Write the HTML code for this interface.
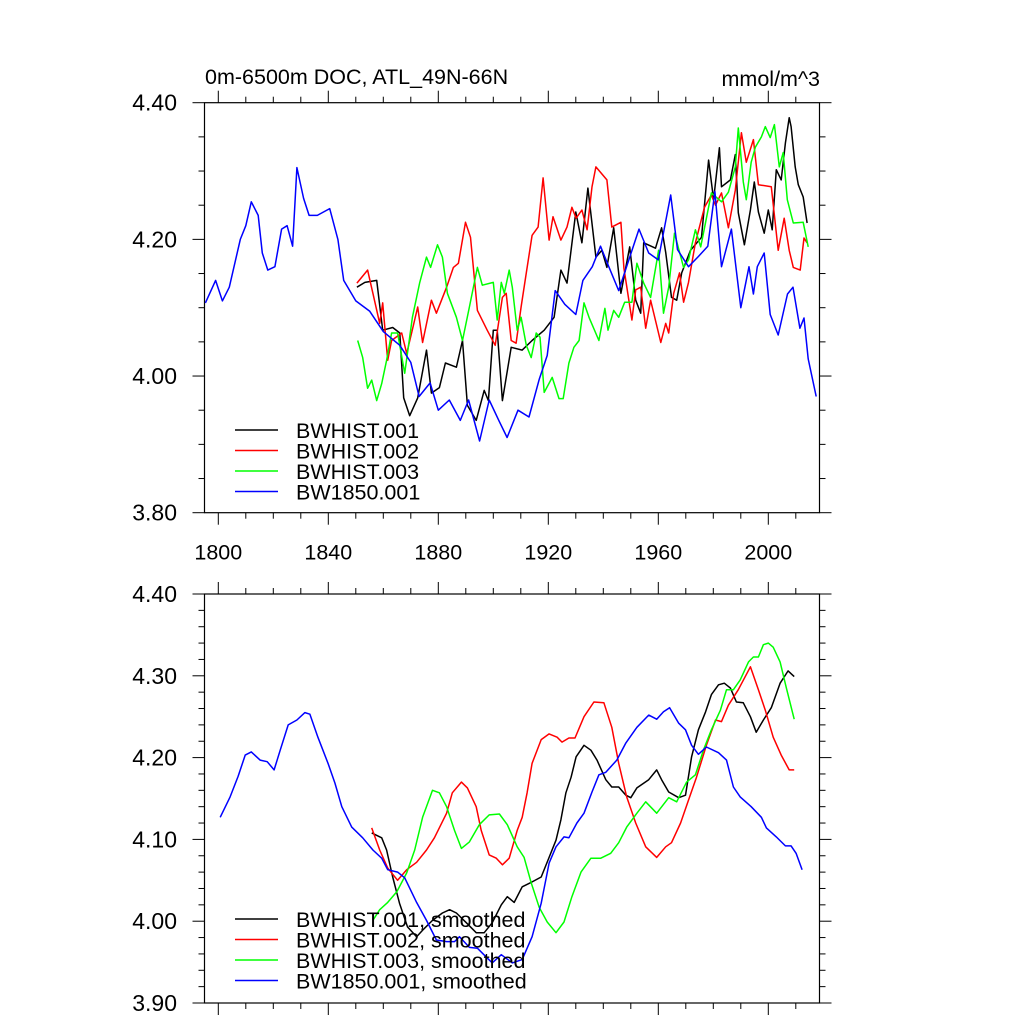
<!DOCTYPE html>
<html><head><meta charset="utf-8"><style>
body{margin:0;background:#fff;}
svg{display:block;font-family:"Liberation Sans",Arial,sans-serif;}
</style></head><body>
<svg id="chart" width="1024" height="1024" viewBox="0 0 1024 1024" xmlns="http://www.w3.org/2000/svg">
<rect width="1024" height="1024" fill="#fff"/>
<text x="205" y="84" font-size="21.5">0m-6500m DOC, ATL_49N-66N</text>
<text x="820" y="86" font-size="21.5" text-anchor="end">mmol/m^3</text>
<g id="top"></g><g id="bot"></g>
</svg>
<script>
// ---- top panel data (annual) ----
const topBlackYears=[1850.4,1853.3,1857.6,1859.8,1863.4,1866,1867.4,1869.6,1872.5,1875.7,1877.5,1880.4,1882.6,1886.6,1888.8,1890.6,1893.8,1896.7,1898.2,1900,1901.4,1903.3,1906.5,1910.5,1914.1,1918.5,1922.1,1924.6,1926.8,1930,1932.2,1934.4,1937.3,1939.5,1941.3,1943.8,1946.4,1949.6,1951.8,1953.6,1954.7,1959,1961.2,1962.7,1964.8,1966.7,1968.5,1971.7,1975.7,1978.3,1980.1,1982.2,1983,1986.2,1988,1989.1,1991.3,1993.5,1994.9,1996.4,1998.5,2000,2001.4,2002.9,2004.7,2006.2,2007.6,2008.3,2009.8,2010.9,2012.7,2014.1];
const topBlackVals=[4.13,4.137,4.14,4.067,4.071,4.063,3.968,3.942,3.968,4.038,3.975,3.983,4.019,4.013,4.052,3.957,3.935,3.979,3.964,4.067,4.067,3.964,4.042,4.038,4.052,4.067,4.086,4.155,4.136,4.24,4.195,4.275,4.174,4.184,4.159,4.217,4.121,4.189,4.111,4.092,4.195,4.187,4.217,4.181,4.115,4.111,4.151,4.184,4.203,4.316,4.258,4.334,4.277,4.287,4.324,4.239,4.192,4.243,4.284,4.24,4.209,4.243,4.214,4.302,4.287,4.341,4.378,4.365,4.306,4.28,4.262,4.224];
const topRedYears=[1850.4,1854.3,1856.2,1858.7,1859.8,1861.6,1863,1866.7,1868.5,1870.3,1872.5,1874.3,1877.5,1879.3,1883,1885.5,1887.3,1889.9,1891.7,1894.2,1897.8,1900.7,1903.3,1904.7,1906.5,1908.3,1910.1,1912,1914.1,1916.3,1918.1,1920.3,1921.7,1924.6,1926.8,1928.6,1930.1,1932.2,1934.1,1935.9,1937.3,1941.3,1943.1,1946.4,1947.5,1950.4,1951.8,1953.6,1955.4,1957.2,1960.9,1962.7,1963.8,1965.6,1967.7,1969.2,1971,1973.5,1976.8,1979.3,1980.8,1983,1985.5,1988,1990.2,1992,1994.6,1996.4,2001.1,2003.6,2005.8,2007.6,2009.1,2011.6,2013,2014.1];
const topRedVals=[4.136,4.155,4.121,4.077,4.107,4.023,4.052,4.063,4.033,4.063,4.101,4.049,4.111,4.092,4.13,4.159,4.165,4.225,4.203,4.096,4.067,4.045,4.115,4.121,4.052,4.048,4.101,4.151,4.206,4.218,4.29,4.199,4.233,4.199,4.218,4.247,4.231,4.243,4.214,4.277,4.306,4.287,4.218,4.225,4.158,4.082,4.126,4.13,4.07,4.111,4.049,4.077,4.063,4.121,4.151,4.108,4.137,4.195,4.247,4.265,4.25,4.268,4.217,4.272,4.356,4.313,4.346,4.28,4.277,4.184,4.231,4.184,4.159,4.155,4.202,4.195];
const topGreenYears=[1850.7,1852.5,1854.3,1855.8,1857.6,1859.4,1861.2,1863,1865.2,1867.8,1870.6,1873.2,1875.7,1877.2,1879.7,1881.5,1883.3,1886.6,1888.8,1891.3,1894.2,1896,1900,1901.4,1902.9,1904,1905.8,1906.9,1908.7,1910.1,1912,1913.8,1915.6,1917,1918.5,1921.4,1923.9,1925.4,1927.5,1929.3,1931.2,1933,1934.8,1938.4,1940.6,1941.7,1943.8,1945.6,1947.8,1950.4,1952.2,1954.7,1957.2,1960.1,1961.9,1963.8,1965.9,1969.2,1971,1973.5,1975.4,1977.2,1979.3,1983,1985.5,1988,1989.1,1990.9,1992,1993.8,1995.3,1997.5,1998.9,2000.7,2002.2,2004,2005.4,2006.9,2009.1,2012.7,2014.5];
const topGreenVals=[4.052,4.027,3.982,3.994,3.964,3.989,4.023,4.063,4.063,4.004,4.086,4.136,4.174,4.159,4.192,4.174,4.121,4.086,4.052,4.101,4.159,4.133,4.137,4.082,4.137,4.121,4.155,4.13,4.067,4.086,4.045,4.027,4.063,4.057,3.976,3.998,3.967,3.967,4.019,4.042,4.052,4.107,4.086,4.052,4.099,4.067,4.096,4.086,4.108,4.108,4.165,4.136,4.115,4.184,4.092,4.13,4.209,4.159,4.17,4.214,4.189,4.225,4.268,4.255,4.269,4.306,4.363,4.284,4.258,4.313,4.335,4.35,4.365,4.349,4.368,4.306,4.327,4.258,4.224,4.225,4.189];
const topBlueYears=[1795.3,1799,1801.5,1804,1808,1810,1812,1814.5,1816,1818,1820.6,1823,1825,1827,1828.6,1831,1833,1836,1840.5,1843.5,1845.6,1850,1855,1860,1866,1870,1873,1877,1880,1884,1888,1891,1895,1898.5,1902,1905,1909,1913,1916.7,1919.6,1922.5,1926,1930,1932.6,1936,1939,1942,1945.6,1953,1956.5,1960,1964.5,1967,1971,1974.6,1978,1980.6,1983,1986.6,1990,1993,1994.6,1996,1998.5,2000.7,2003.6,2007,2009,2011.5,2013,2014.5,2017.4];
const topBlueVals=[4.107,4.14,4.11,4.13,4.2,4.22,4.255,4.235,4.18,4.155,4.16,4.215,4.22,4.19,4.305,4.26,4.235,4.235,4.245,4.2,4.14,4.11,4.095,4.065,4.045,4.02,3.97,3.99,3.95,3.965,3.935,3.965,3.905,3.965,3.935,3.91,3.95,3.94,3.995,4.03,4.125,4.105,4.09,4.14,4.16,4.19,4.16,4.125,4.215,4.18,4.17,4.265,4.185,4.16,4.175,4.19,4.27,4.16,4.215,4.1,4.16,4.12,4.16,4.18,4.09,4.06,4.12,4.13,4.07,4.085,4.025,3.97];
// ---- bottom panel data (smoothed) ----
const botBlackYears=[1855.8,1859.4,1861.2,1863.4,1865.9,1868.8,1872.1,1874.3,1877.9,1881.5,1884.1,1886.6,1890.2,1893.8,1896.7,1899.6,1902.9,1905.1,1907.6,1910.5,1914.1,1917.4,1920.3,1922.8,1924.6,1926.4,1928.3,1930.1,1933,1935.5,1937.7,1940.9,1943.1,1945.6,1948.2,1950,1952.2,1956.5,1959.4,1961.2,1963.8,1967.4,1969.9,1972.1,1974.6,1977.2,1979.3,1981.9,1984,1986.2,1988.4,1990.9,1993.5,1995.6,1998.2,2001.1,2004.3,2007.2,2009.4];
const botBlackVals=[4.108,4.102,4.087,4.054,4.022,3.993,3.981,3.989,4.001,4.01,4.014,4.01,3.998,3.986,3.986,3.998,4.02,4.03,4.023,4.042,4.048,4.054,4.078,4.099,4.124,4.157,4.176,4.201,4.215,4.209,4.197,4.173,4.164,4.164,4.154,4.151,4.163,4.173,4.185,4.173,4.158,4.151,4.154,4.201,4.234,4.256,4.277,4.289,4.291,4.285,4.268,4.267,4.25,4.231,4.246,4.261,4.291,4.306,4.299];
const botRedYears=[1855.8,1858.7,1861.6,1865.2,1868.5,1872.1,1875.7,1878.6,1883,1885.1,1888.4,1890.6,1893.8,1895.6,1898.5,1901.1,1903.3,1905.8,1908.7,1910.5,1912.3,1914.1,1917.4,1920.3,1923.2,1925,1927.5,1929.7,1933,1936.6,1940.2,1943.1,1945.6,1948.5,1951.8,1955.4,1959.4,1962.7,1964.8,1968.1,1971,1973.9,1977.5,1980.8,1983,1985.5,1989.1,1993.5,1996.4,1998.9,2001.8,2004.7,2007.6,2009.4];
const botRedVals=[4.114,4.087,4.065,4.05,4.063,4.072,4.087,4.102,4.132,4.157,4.17,4.163,4.14,4.111,4.081,4.077,4.069,4.077,4.111,4.127,4.157,4.193,4.222,4.229,4.225,4.219,4.224,4.224,4.25,4.268,4.267,4.237,4.193,4.152,4.12,4.091,4.078,4.091,4.096,4.12,4.148,4.176,4.215,4.246,4.244,4.264,4.283,4.311,4.283,4.258,4.225,4.203,4.185,4.185];
const botGreenYears=[1856.2,1858.7,1861.6,1864.9,1868.5,1871.4,1874.3,1877.9,1880.4,1883,1885.9,1888.4,1891.3,1894.9,1898.5,1902.2,1905.1,1908.7,1911.2,1913.8,1916.7,1919.6,1922.8,1925.7,1928.6,1931.9,1935.5,1939.1,1942.7,1945.6,1948.5,1952.2,1955.4,1959.4,1963.8,1966.7,1970.3,1973.5,1976.4,1979.3,1982.6,1984.8,1987.3,1989.8,1992.8,1994.6,1996.4,1998.2,2000,2001.8,2004.3,2006.5,2009.4];
const botGreenVals=[4.001,4.014,4.023,4.036,4.059,4.087,4.127,4.16,4.157,4.14,4.111,4.089,4.097,4.118,4.13,4.131,4.118,4.091,4.078,4.047,4.017,3.999,3.986,3.999,4.03,4.06,4.077,4.077,4.083,4.096,4.115,4.132,4.146,4.132,4.151,4.146,4.17,4.179,4.209,4.234,4.258,4.283,4.283,4.295,4.317,4.323,4.323,4.338,4.34,4.335,4.317,4.286,4.247];
const botBlueYears=[1800.7,1804.3,1807.2,1809.8,1812,1815.2,1817.8,1820.3,1822.5,1825.4,1828.6,1831.5,1833.3,1836.2,1839.9,1842.4,1844.9,1848.5,1852.5,1856.2,1859.4,1861.6,1865.2,1867.8,1872.1,1875.7,1879.3,1883,1885.9,1887.7,1891.3,1894.2,1897.5,1899.6,1902.9,1906.9,1910.5,1914.1,1917.4,1920.3,1922.8,1925.7,1927.5,1930.4,1933,1935.9,1938.4,1940.9,1944.9,1948.2,1952.2,1956.5,1959.4,1961.9,1964.1,1967.4,1969.9,1972.1,1974.6,1977.5,1981.9,1984.8,1987.3,1989.8,1993.8,1997.5,1999.3,2002.9,2006.2,2008.3,2010.1,2012.3];
const botBlueVals=[4.127,4.152,4.177,4.203,4.207,4.197,4.195,4.185,4.209,4.24,4.246,4.255,4.253,4.225,4.193,4.169,4.14,4.115,4.102,4.087,4.077,4.063,4.06,4.053,4.023,4.001,3.977,3.975,3.975,3.981,3.968,3.967,3.956,3.949,3.959,3.949,3.953,3.981,4.022,4.071,4.091,4.103,4.102,4.12,4.132,4.158,4.179,4.182,4.197,4.218,4.237,4.252,4.247,4.256,4.261,4.242,4.234,4.215,4.204,4.213,4.206,4.197,4.164,4.152,4.14,4.127,4.114,4.103,4.092,4.092,4.083,4.063];
const xTickLabels=["1800","1840","1880","1920","1960","2000"];
const topYTickLabels=["3.80","4.00","4.20","4.40"];
const botYTickLabels=["3.90","4.00","4.10","4.20","4.30","4.40"];
const legendTop=["BWHIST.001","BWHIST.002","BWHIST.003","BW1850.001"];
const legendBot=["BWHIST.001, smoothed","BWHIST.002, smoothed","BWHIST.003, smoothed","BW1850.001, smoothed"];

const NS="http://www.w3.org/2000/svg";
const L=204.5,R=819.5;
const xs=yr=>218.3+(yr-1800)*2.75;
const colors=["#000","#f00","#0f0","#00f"];
function mk(tag,attrs,parent){const e=document.createElementNS(NS,tag);for(const k in attrs)e.setAttribute(k,attrs[k]);parent.appendChild(e);return e;}
function panel(g,T,B,ymin,ymax,ymaj,ymin2,yLabels,showXLabels,series,legend,legY){
  const ys=v=>B-(v-ymin)/(ymax-ymin)*(B-T);
  const frame=mk('rect',{x:L,y:T,width:R-L,height:B-T,fill:'none',stroke:'#000','stroke-width':1.2},g);
  
  
  for(let yr=1800;yr<=2010;yr+=10){
    const x=xs(yr),maj=yr%40===0,len=maj?12:6;
    const t1=mk('line',{x1:x,x2:x,y1:B,y2:B+len,stroke:'#000','stroke-width':1},g);
    
    
    const t2=mk('line',{x1:x,x2:x,y1:T,y2:T-len,stroke:'#000','stroke-width':1},g);
    
    
  }
  if(showXLabels){xTickLabels.forEach(s=>{
    const t=mk('text',{x:xs(+s),y:B+47,'font-size':21.5,'text-anchor':'middle'},g);t.textContent=s;
    
    });}
  const n=Math.round((ymax-ymin)/ymin2);
  for(let i=0;i<=n;i++){
    const v=ymin+i*ymin2,y=ys(v);
    const maj=Math.abs((v-ymin)/ymaj-Math.round((v-ymin)/ymaj))<1e-6,len=maj?12:6;
    const a=mk('line',{x1:L,x2:L-len,y1:y,y2:y,stroke:'#000','stroke-width':1},g);
    
    
    const b=mk('line',{x1:R,x2:R+len,y1:y,y2:y,stroke:'#000','stroke-width':1},g);
    
    
  }
  yLabels.forEach(s=>{
    const t=mk('text',{x:177,y:ys(+s)+8,'font-size':23,'text-anchor':'end'},g);t.textContent=s;
    
    });
  series.forEach((s,i)=>{
    const d=s[0].map((yr,j)=>(j?'L':'M')+xs(yr).toFixed(1)+','+ys(s[1][j]).toFixed(1)).join('');
    const p=mk('path',{d:d,fill:'none',stroke:colors[i],'stroke-width':1.5,'stroke-linejoin':'round'},g);
    
    
  });
  legend.forEach((s,i)=>{
    const y=legY+i*20.5;
    const ln=mk('line',{x1:235,x2:278,y1:y,y2:y,stroke:colors[i],'stroke-width':1.5},g);
    
    
    const t=mk('text',{x:296,y:y+8,'font-size':21.5},g);t.textContent=s;
    
    
  });
}
panel(document.getElementById('top'),102.7,512.7,3.8,4.4,0.2,0.05,topYTickLabels,true,
 [[topBlackYears,topBlackVals],[topRedYears,topRedVals],[topGreenYears,topGreenVals],[topBlueYears,topBlueVals]],legendTop,430);
panel(document.getElementById('bot'),594,1003,3.9,4.4,0.1,0.02,botYTickLabels,false,
 [[botBlackYears,botBlackVals],[botRedYears,botRedVals],[botGreenYears,botGreenVals],[botBlueYears,botBlueVals]],legendBot,919);
</script>
</body></html>
